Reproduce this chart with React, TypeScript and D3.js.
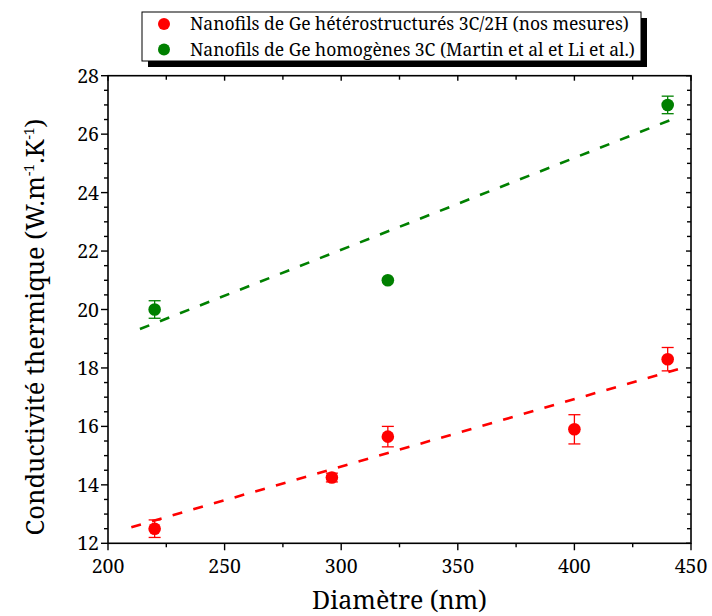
import React from "react";
import * as d3 from "d3";

const redX = [220, 296, 320, 400, 440];
const redY = [12.5, 14.25, 15.65, 15.9, 18.3];
const redErr = [0.3, 0.15, 0.35, 0.5, 0.4];
const greenX = [220, 320, 440];
const greenY = [20.0, 21.0, 27.0];
const greenErr = [0.3, 0.0, 0.3];
const redFitX = [210, 445];
const redFitY = [12.55, 17.97];
const greenFitX = [213.7, 441.4];
const greenFitY = [19.33, 26.49];
const xTicks = [200, 250, 300, 350, 400, 450];
const yTicks = [12, 14, 16, 18, 20, 22, 24, 26, 28];
const legendLabels = [
  "Nanofils de Ge hétérostructurés 3C/2H (nos mesures)",
  "Nanofils de Ge homogènes 3C (Martin et al et Li et al.)",
];
const RED = "#ff0000";
const GREEN = "#008000";
const FONT = "Noto Serif, Liberation Serif, serif";

export default function App() {
  const W = 712, H = 616;
  const L = 108, R = 691, T = 75.7, B = 543.3;
  const x = d3.scaleLinear().domain([200, 450]).range([L, R]);
  const y = d3.scaleLinear().domain([12, 28]).range([B, T]);
  const xMinor = d3.range(200, 450.01, 25);
  const yMinor = d3.range(12, 28.01, 0.5);
  const line = d3.line<[number, number]>().x((d) => x(d[0])).y((d) => y(d[1]));

  const series = [
    { xs: redX, ys: redY, es: redErr, color: RED, fx: redFitX, fy: redFitY },
    { xs: greenX, ys: greenY, es: greenErr, color: GREEN, fx: greenFitX, fy: greenFitY },
  ];
  const ts = { fontFamily: FONT };

  return (
    <svg width={W} height={H} style={{ position: "absolute", left: 0, top: 0, fontFamily: FONT }}>
      <rect x={0} y={0} width={W} height={H} fill="#fff" />
      {series.map((s, i) => (
        <path
          key={"fit" + i}
          d={line(s.fx.map((v, j) => [v, s.fy[j]] as [number, number])) || ""}
          fill="none"
          stroke={s.color}
          strokeWidth={2.6}
          strokeDasharray="10,11.5"
        />
      ))}
      {series.map((s, i) => (
        <g key={"pts" + i}>
          {s.xs.map((v, j) => {
            const cx = x(v), cy = y(s.ys[j]);
            const e = s.es[j];
            return (
              <g key={j}>
                {e > 0 && (
                  <g stroke={s.color} strokeWidth={1.3}>
                    <line x1={cx} x2={cx} y1={y(s.ys[j] + e)} y2={y(s.ys[j] - e)} />
                    <line x1={cx - 6} x2={cx + 6} y1={y(s.ys[j] + e)} y2={y(s.ys[j] + e)} />
                    <line x1={cx - 6} x2={cx + 6} y1={y(s.ys[j] - e)} y2={y(s.ys[j] - e)} />
                  </g>
                )}
                <circle cx={cx} cy={cy} r={6.3} fill={s.color} />
              </g>
            );
          })}
        </g>
      ))}
      <rect x={L} y={T} width={R - L} height={B - T} fill="none" stroke="#000" strokeWidth={1.6} />
      {xMinor.map((v) => {
        const major = xTicks.includes(v);
        return <line key={"bx" + v} x1={x(v)} x2={x(v)} y1={B} y2={B + (major ? 7 : 4)} stroke="#000" strokeWidth={1.4} />;
      })}
      {xMinor.map((v) => {
        const major = xTicks.includes(v);
        return <line key={"tx" + v} x1={x(v)} x2={x(v)} y1={T} y2={T + (major ? 5 : 4)} stroke="#000" strokeWidth={1.4} />;
      })}
      {yMinor.map((v) => {
        const major = yTicks.includes(v);
        return <line key={"ly" + v} x1={L} x2={L - (major ? 7 : 4)} y1={y(v)} y2={y(v)} stroke="#000" strokeWidth={1.4} />;
      })}
      {yMinor.map((v) => {
        const major = yTicks.includes(v);
        return <line key={"ry" + v} x1={R} x2={R - (major ? 5 : 4)} y1={y(v)} y2={y(v)} stroke="#000" strokeWidth={1.4} />;
      })}
      {xTicks.map((v) => (
        <text key={"xl" + v} x={x(v)} y={B + 30} textAnchor="middle" fontSize={19.5} fill="#000" style={ts}>
          {v}
        </text>
      ))}
      {yTicks.map((v) => (
        <text key={"yl" + v} x={L - 9} y={y(v) + 7} textAnchor="end" fontSize={19.5} fill="#000" style={ts}>
          {v}
        </text>
      ))}
      <text x={(L + R) / 2} y={609} textAnchor="middle" fontSize={25} fill="#000" style={ts}>
        Diamètre (nm)
      </text>
      <text transform={`translate(44, 327) rotate(-90)`} textAnchor="middle" fontSize={25.5} fill="#000" style={ts}>
        Conductivité thermique (W.m
        <tspan fontSize={14} dy={-10}>-1</tspan>
        <tspan dy={10}>.K</tspan>
        <tspan fontSize={14} dy={-10}>-1</tspan>
        <tspan dy={10}>)</tspan>
      </text>
      <rect x={148} y={18} width={499} height={49} fill="#000" />
      <rect x={142} y={12} width={499} height={49} fill="#fff" stroke="#000" strokeWidth={1} />
      {legendLabels.map((lab, i) => (
        <g key={"lg" + i}>
          <circle cx={164} cy={24 + i * 25.5} r={6} fill={i === 0 ? RED : GREEN} />
          <text x={190} y={30 + i * 25.5} fontSize={17.5} fill="#000" style={ts}>
            {lab}
          </text>
        </g>
      ))}
    </svg>
  );
}
